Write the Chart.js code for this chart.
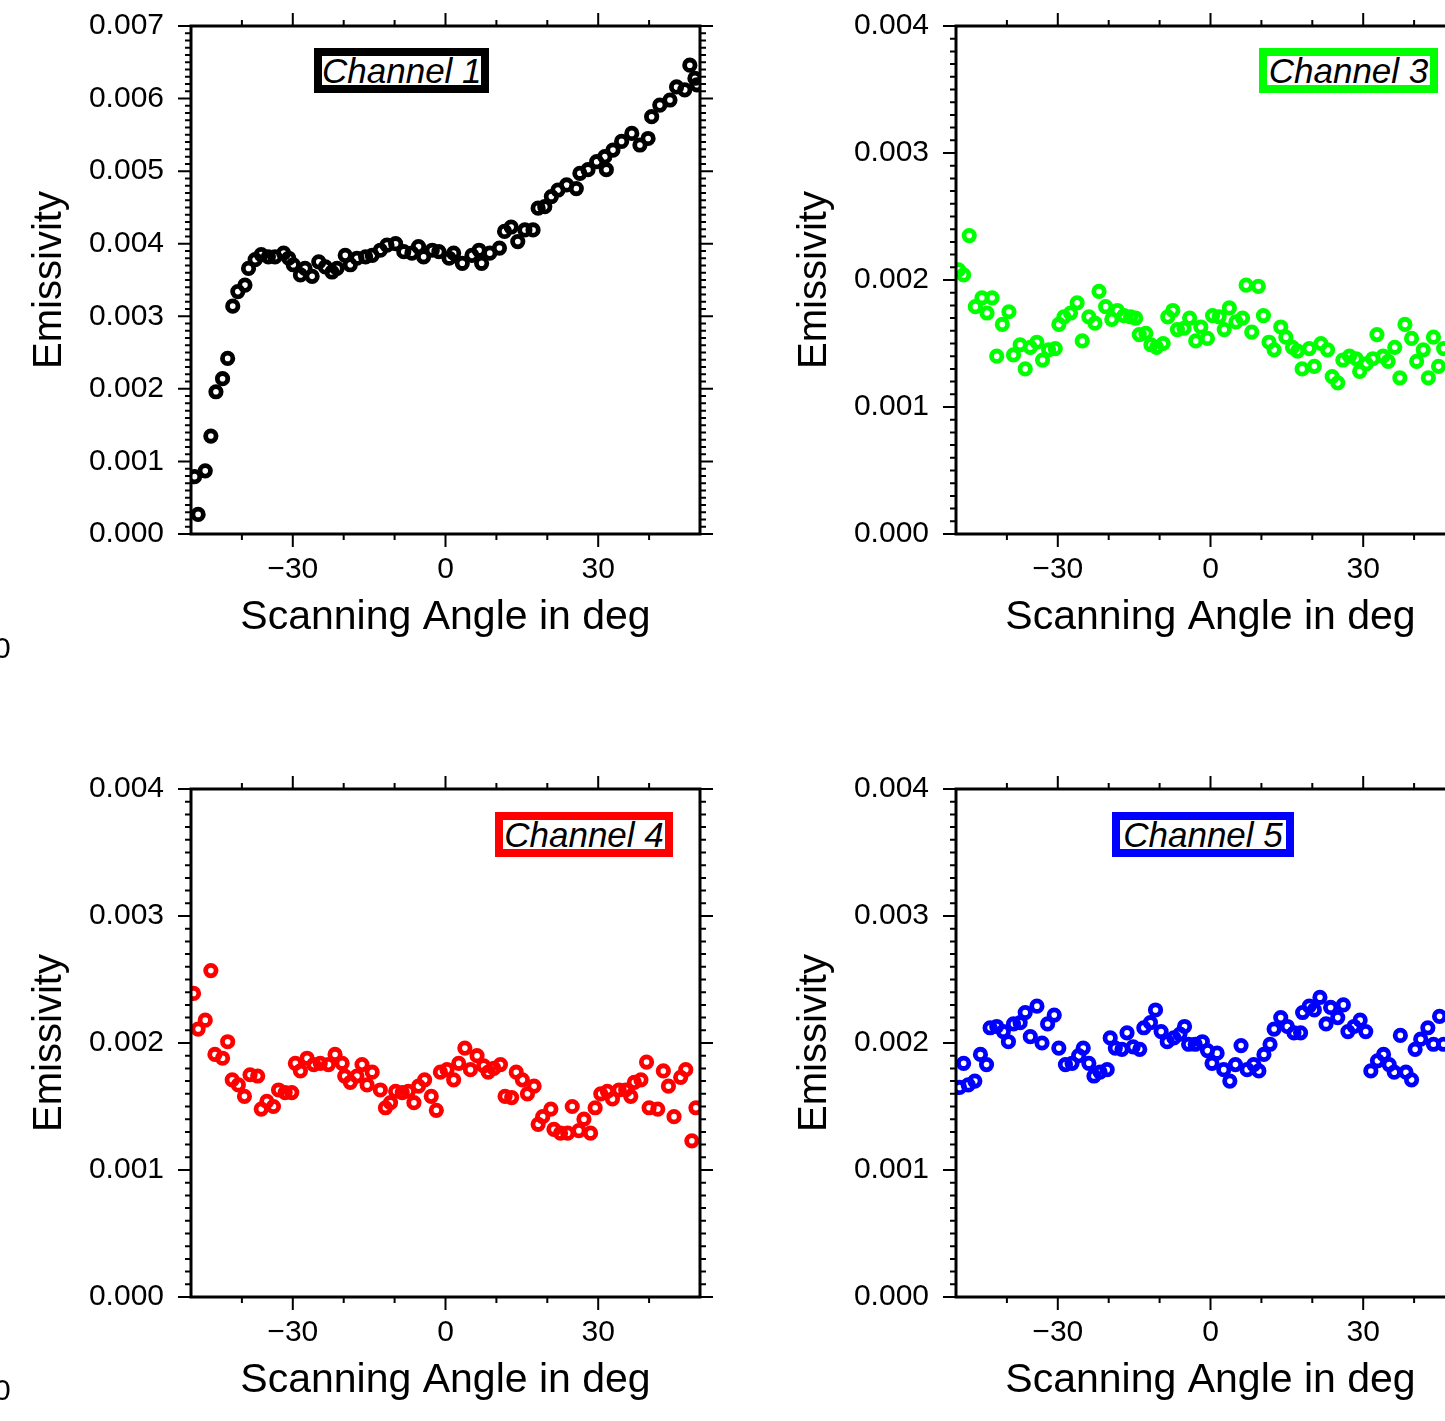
<!DOCTYPE html>
<html>
<head>
<meta charset="utf-8">
<script src="https://cdn.jsdelivr.net/npm/chart.js@4.4.0/dist/chart.umd.min.js"></script>
<style>
html, body { margin: 0; padding: 0; background: #fff; }
body { width: 1445px; height: 1421px; overflow: hidden; position: relative; font-family: "Liberation Sans", Arial, sans-serif; }
canvas { position: absolute; }
.tag { position: absolute; box-sizing: border-box; border: 8px solid #000; background: #fff; font-style: italic; font-size: 35px; line-height: 29px; height: 45px; text-align: center; color: #000; white-space: nowrap; }
.frag { position: absolute; font-size: 30px; line-height: 30px; color: #000; }
</style>
</head>
<body>
<canvas id="ch1" width="720" height="700" style="left:0;top:0"></canvas>
<canvas id="ch3" width="720" height="700" style="left:765px;top:0"></canvas>
<canvas id="ch4" width="720" height="700" style="left:0;top:763px"></canvas>
<canvas id="ch5" width="720" height="700" style="left:765px;top:763px"></canvas>

<div class="tag" style="left:314px;top:48px;width:175px;border-color:#000">Channel 1</div>
<div class="tag" style="left:1259px;top:48px;width:179px;border-color:#00ff00">Channel 3</div>
<div class="tag" style="left:495px;top:812px;width:178px;border-color:#ff0000">Channel 4</div>
<div class="tag" style="left:1112px;top:812px;width:182px;border-color:#0000ff">Channel 5</div>
<div class="frag" style="left:-6px;top:633px">0</div>
<div class="frag" style="left:-6px;top:1375px">0</div>

<script>
const FONT = '"Liberation Sans", Arial, sans-serif';

// x axis (scanning angle, deg)
const xTicks = [-30, 0, 30];
const yTicksCh1 = [0, 0.001, 0.002, 0.003, 0.004, 0.005, 0.006, 0.007];
const yTicksOther = [0, 0.001, 0.002, 0.003, 0.004];

// Channel 1
const ch1Angle = [-49.3, -48.6, -47.2, -46.1, -45.1, -43.8, -42.8, -41.8, -40.8, -39.4, -38.7, -37.4, -36.2, -34.8, -33.5, -31.8, -30.8, -29.9, -28.5, -27.6,
  -26.2, -24.9, -23.6, -22.3, -21.3, -19.7, -18.7, -17.4, -15.7, -14.4, -12.8, -11.5, -9.8, -8.2, -6.6, -5.3, -4.3, -2.6, -1.3, 0.7,
  1.6, 3.3, 5.2, 6.6, 7.1, 8.7, 10.6, 11.6, 12.9, 14.2, 15.6, 17.2, 18.2, 19.5, 20.8, 22.1, 23.8, 25.7, 26.4, 28.0,
  29.7, 31.3, 31.6, 32.9, 34.6, 36.6, 38.2, 39.8, 40.5, 42.1, 44.1, 45.4, 47.0, 48.0, 49.0, 49.4];
const ch1Value = [0.00079, 0.00027, 0.00087, 0.00135, 0.00196, 0.00214, 0.00242, 0.00314, 0.00334, 0.00343, 0.00366, 0.00378, 0.00385, 0.00382, 0.00382, 0.00387, 0.00380, 0.00371, 0.00357, 0.00366,
  0.00355, 0.00375, 0.00368, 0.00361, 0.00366, 0.00384, 0.00371, 0.00380, 0.00382, 0.00384, 0.00391, 0.00398, 0.00400, 0.00389, 0.00387, 0.00396, 0.00382, 0.00391, 0.00389, 0.00380,
  0.00387, 0.00373, 0.00384, 0.00391, 0.00373, 0.00387, 0.00394, 0.00417, 0.00423, 0.00403, 0.00419, 0.00419, 0.00449, 0.00451, 0.00465, 0.00474, 0.00481, 0.00476, 0.00497, 0.00502,
  0.00513, 0.00520, 0.00502, 0.00529, 0.00541, 0.00552, 0.00536, 0.00545, 0.00575, 0.00591, 0.00598, 0.00616, 0.00612, 0.00646, 0.00628, 0.00619];

// Channel 3
const ch3Angle = [-49.5, -48.5, -47.4, -46.2, -44.9, -43.9, -42.9, -42.0, -40.9, -39.6, -38.7, -37.4, -36.4, -35.4, -34.1, -33.0, -31.8, -30.5, -29.8, -28.8,
  -27.5, -26.2, -25.2, -23.9, -22.7, -21.9, -20.6, -19.4, -18.3, -17.0, -15.7, -14.7, -14.0, -12.7, -11.7, -10.6, -9.3, -8.4, -7.4, -6.5,
  -5.2, -4.1, -2.9, -1.9, -0.6, 0.4, 1.7, 2.7, 3.7, 5.0, 6.3, 7.0, 8.1, 9.4, 10.4, 11.5, 12.5, 13.8, 14.8, 16.1,
  17.1, 18.0, 19.4, 20.4, 21.7, 23.0, 23.9, 25.0, 26.0, 27.3, 28.6, 29.3, 30.6, 31.9, 32.7, 33.9, 34.9, 36.2, 37.2, 38.2,
  39.5, 40.5, 41.8, 42.8, 43.8, 44.8, 45.8];
const ch3Value = [0.00208, 0.00204, 0.00235, 0.00179, 0.00186, 0.00174, 0.00186, 0.00140, 0.00165, 0.00175, 0.00141, 0.00149, 0.00130, 0.00147, 0.00151, 0.00137, 0.00145, 0.00146, 0.00165, 0.00171,
  0.00174, 0.00182, 0.00152, 0.00171, 0.00166, 0.00191, 0.00179, 0.00169, 0.00176, 0.00172, 0.00171, 0.00170, 0.00157, 0.00158, 0.00149, 0.00147, 0.00150, 0.00171, 0.00176, 0.00161,
  0.00162, 0.00170, 0.00152, 0.00163, 0.00154, 0.00172, 0.00171, 0.00161, 0.00178, 0.00167, 0.00170, 0.00196, 0.00159, 0.00195, 0.00172, 0.00151, 0.00145, 0.00163, 0.00155, 0.00147,
  0.00144, 0.00130, 0.00146, 0.00132, 0.00150, 0.00145, 0.00124, 0.00119, 0.00137, 0.00140, 0.00138, 0.00128, 0.00134, 0.00138, 0.00157, 0.00140, 0.00136, 0.00147, 0.00123, 0.00165,
  0.00154, 0.00136, 0.00145, 0.00123, 0.00155, 0.00132, 0.00146];

// Channel 4
const ch4Angle = [-49.5, -48.6, -47.2, -46.1, -45.3, -43.8, -42.8, -41.9, -40.7, -39.5, -38.4, -36.9, -36.2, -35.1, -33.8, -32.8, -31.5, -30.2, -29.5, -28.5,
  -27.2, -25.9, -24.6, -23.0, -21.7, -20.3, -19.8, -18.7, -17.4, -16.4, -15.4, -14.4, -12.8, -11.8, -10.8, -9.8, -8.5, -7.3, -6.2, -5.3,
  -4.1, -2.8, -1.8, -1.0, 0.3, 1.6, 2.6, 3.8, 4.9, 6.2, 7.5, 8.4, 9.5, 10.8, 11.7, 13.0, 13.9, 15.1, 16.1, 17.4,
  18.2, 19.1, 20.7, 21.3, 22.6, 24.0, 24.9, 26.2, 27.2, 28.5, 29.4, 30.5, 31.8, 32.8, 34.1, 35.4, 36.4, 37.1, 38.4, 39.5,
  40.0, 41.7, 42.8, 43.8, 44.9, 46.2, 47.2, 48.4, 49.2];
const ch4Value = [0.00239, 0.00211, 0.00218, 0.00257, 0.00191, 0.00188, 0.00201, 0.00171, 0.00167, 0.00158, 0.00175, 0.00174, 0.00148, 0.00154, 0.00150, 0.00163, 0.00161, 0.00161, 0.00184, 0.00178,
  0.00188, 0.00183, 0.00184, 0.00183, 0.00191, 0.00184, 0.00174, 0.00169, 0.00174, 0.00183, 0.00167, 0.00177, 0.00163, 0.00149, 0.00153, 0.00162, 0.00161, 0.00162, 0.00153, 0.00166,
  0.00171, 0.00158, 0.00147, 0.00177, 0.00179, 0.00171, 0.00184, 0.00196, 0.00179, 0.00190, 0.00182, 0.00177, 0.00180, 0.00183, 0.00158, 0.00157, 0.00177, 0.00171, 0.00160, 0.00166,
  0.00136, 0.00142, 0.00148, 0.00132, 0.00129, 0.00129, 0.00150, 0.00131, 0.00140, 0.00129, 0.00149, 0.00160, 0.00162, 0.00156, 0.00163, 0.00163, 0.00158, 0.00169, 0.00171, 0.00185,
  0.00149, 0.00148, 0.00178, 0.00166, 0.00142, 0.00173, 0.00179, 0.00123, 0.00149];

// Channel 5
const ch5Angle = [-49.3, -48.5, -47.6, -46.3, -45.2, -44.0, -43.3, -42.0, -40.7, -39.7, -38.7, -37.4, -36.4, -35.4, -34.1, -33.1, -32.0, -30.7, -29.8, -28.5,
  -27.2, -25.9, -25.0, -23.9, -22.9, -21.7, -20.3, -19.7, -18.7, -17.4, -16.4, -15.2, -13.9, -13.1, -11.8, -10.8, -9.7, -8.5, -7.2, -6.0,
  -5.1, -4.3, -3.0, -1.6, -0.6, 0.3, 1.3, 2.6, 3.8, 4.9, 6.0, 7.2, 8.5, 9.5, 10.5, 11.7, 12.5, 13.8, 15.1, 16.4,
  17.7, 18.1, 19.4, 20.4, 21.5, 22.7, 23.6, 25.0, 26.1, 27.0, 28.2, 29.4, 30.5, 31.5, 32.8, 34.0, 35.1, 36.1, 37.3, 38.4,
  39.5, 40.2, 41.3, 42.7, 43.8, 45.0, 45.8];
const ch5Value = [0.00165, 0.00184, 0.00167, 0.00170, 0.00191, 0.00183, 0.00212, 0.00213, 0.00209, 0.00201, 0.00215, 0.00216, 0.00224, 0.00205, 0.00229, 0.00200, 0.00215, 0.00222, 0.00196, 0.00183,
  0.00184, 0.00190, 0.00196, 0.00184, 0.00174, 0.00177, 0.00179, 0.00204, 0.00196, 0.00195, 0.00208, 0.00197, 0.00195, 0.00212, 0.00216, 0.00226, 0.00209, 0.00201, 0.00204, 0.00207,
  0.00213, 0.00199, 0.00199, 0.00201, 0.00194, 0.00184, 0.00192, 0.00179, 0.00170, 0.00183, 0.00198, 0.00179, 0.00183, 0.00178, 0.00191, 0.00199, 0.00211, 0.00220, 0.00213, 0.00208,
  0.00208, 0.00224, 0.00229, 0.00226, 0.00236, 0.00215, 0.00228, 0.00220, 0.00230, 0.00209, 0.00213, 0.00218, 0.00209, 0.00178, 0.00186, 0.00191, 0.00183, 0.00177, 0.00206, 0.00177,
  0.00171, 0.00195, 0.00203, 0.00212, 0.00199, 0.00221, 0.00199];

// GMT-like frame with outward ticks on all four sides
const framePlugin = {
  id: 'frame',
  afterDatasetsDraw(chart) {
    const { ctx, chartArea: a, scales: { x, y } } = chart;
    ctx.save();
    ctx.strokeStyle = '#000';
    ctx.lineWidth = 2;
    ctx.beginPath();
    const steps = Math.round(y.max / 0.0001);
    for (let i = 0; i <= steps; i++) {
      const py = y.getPixelForValue(i * 0.0001);
      const len = i % 10 === 0 ? 13 : 6;
      ctx.moveTo(a.left - len, py); ctx.lineTo(a.left, py);
      ctx.moveTo(a.right, py); ctx.lineTo(a.right + len, py);
    }
    for (let v = -40; v <= 40; v += 10) {
      const px = x.getPixelForValue(v);
      const len = v % 30 === 0 ? 13 : 6;
      ctx.moveTo(px, a.bottom); ctx.lineTo(px, a.bottom + len);
      ctx.moveTo(px, a.top); ctx.lineTo(px, a.top - len);
    }
    ctx.stroke();
    ctx.lineWidth = 3;
    ctx.strokeRect(a.left, a.top, a.right - a.left, a.bottom - a.top);
    ctx.restore();
  }
};

function makeChart(id, angles, values, color, yTicks) {
  const pts = angles.map((a, i) => ({ x: a, y: values[i] }));
  return new Chart(document.getElementById(id), {
    type: 'scatter',
    data: {
      datasets: [{
        data: pts,
        borderColor: color,
        backgroundColor: 'rgba(0,0,0,0)',
        pointRadius: 5.2,
        pointHoverRadius: 5.2,
        pointBorderWidth: 4.8,
        clip: 0
      }]
    },
    options: {
      responsive: false,
      animation: false,
      events: [],
      layout: { padding: { top: 26, right: 20, left: 0, bottom: 0 } },
      plugins: { legend: { display: false }, tooltip: { enabled: false } },
      scales: {
        x: {
          type: 'linear',
          min: -50,
          max: 50,
          grid: { display: false, drawTicks: false },
          border: { display: false },
          afterBuildTicks: s => { s.ticks = xTicks.map(v => ({ value: v })); },
          afterFit: s => { s.height = 166; s.paddingLeft = 0; s.paddingRight = 0; },
          ticks: {
            padding: 18, maxRotation: 0, autoSkip: false, color: '#000',
            font: { family: FONT, size: 30 },
            callback: v => v < 0 ? '\u2212' + Math.abs(v) : String(v)
          },
          title: {
            display: true, text: 'Scanning Angle in deg', color: '#000',
            font: { family: FONT, size: 41 }, padding: { top: 0, bottom: 58 }
          }
        },
        y: {
          type: 'linear',
          min: yTicks[0],
          max: yTicks[yTicks.length - 1],
          grid: { display: false, drawTicks: false },
          border: { display: false },
          afterBuildTicks: s => { s.ticks = yTicks.map(v => ({ value: v })); },
          afterFit: s => { s.width = 191; s.paddingTop = 0; s.paddingBottom = 0; },
          ticks: {
            padding: 27, autoSkip: false, color: '#000',
            font: { family: FONT, size: 30 },
            callback: v => v.toFixed(3)
          },
          title: {
            display: true, text: 'Emissivity', color: '#000',
            font: { family: FONT, size: 40 }, padding: { top: 26, bottom: 0 }
          }
        }
      }
    },
    plugins: [framePlugin]
  });
}

makeChart('ch1', ch1Angle, ch1Value, '#000000', yTicksCh1);
makeChart('ch3', ch3Angle, ch3Value, '#00ff00', yTicksOther);
makeChart('ch4', ch4Angle, ch4Value, '#ff0000', yTicksOther);
makeChart('ch5', ch5Angle, ch5Value, '#0000ff', yTicksOther);
</script>
</body>
</html>
